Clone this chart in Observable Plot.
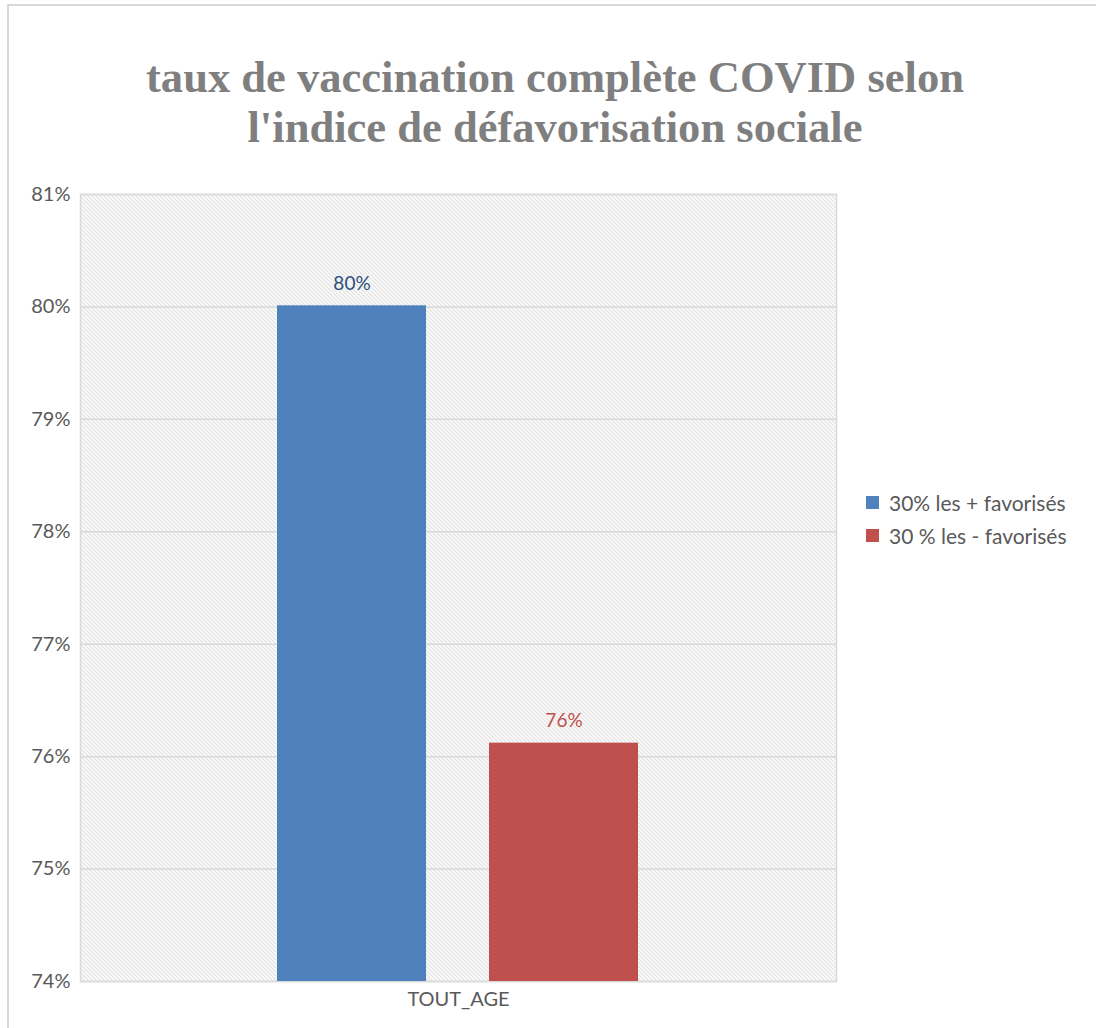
<!DOCTYPE html>
<html><head><meta charset="utf-8">
<script src="https://cdn.jsdelivr.net/npm/d3@7"></script>
<script src="https://cdn.jsdelivr.net/npm/@observablehq/plot@0.6"></script>
<style>
html,body{margin:0;background:#fff;overflow:hidden;}
#wrap{position:relative;width:1096px;height:1028px;overflow:hidden;background:#fff;}
#border{position:absolute;left:7px;top:4px;width:1200px;height:1100px;border-left:2px solid #d9d9d9;border-top:2px solid #d9d9d9;}
#title{position:absolute;left:0;top:52px;width:1110px;text-align:center;font-family:"Liberation Serif",serif;font-weight:bold;font-size:45px;line-height:50px;color:#7f7f7f;transform:scaleX(0.99);}
#chart{position:absolute;left:0;top:0;}
#legend{position:absolute;left:866px;top:486px;font-family:Lato,"Open Sans",sans-serif;font-size:21px;color:#595959;}
.row{display:flex;align-items:center;height:33px;}
.sw{width:13px;height:13px;margin-right:10px;}
</style></head>
<body>
<svg width="0" height="0" style="position:absolute">
  <defs>
    <pattern id="hatch" patternUnits="userSpaceOnUse" width="4" height="4">
      <rect width="4" height="4" fill="#ffffff"/>
      <path d="M-1,-1 L5,5 M-1,3 L1,5 M3,-1 L5,1" stroke="#c8c8c8" stroke-width="1"/>
    </pattern>
  </defs>
</svg>
<div id="wrap">
  <div id="border"></div>
  <div id="title">taux de vaccination complète COVID selon<br>l'indice de défavorisation sociale</div>
  <div id="chart"></div>
  <div id="legend"></div>
</div>
<script>
const categories = ["TOUT_AGE"];
const series = ["30% les + favorisés", "30 % les - favorisés"];
const values = [0.8001, 0.7612];
const labels = ["80%", "76%"];
const colors = ["#4f81bd", "#c0504d"];
const labelColors = ["#2c4f7c", "#c0504d"];
const yTicks = [0.74, 0.75, 0.76, 0.77, 0.78, 0.79, 0.80, 0.81];

const data = series.map((s, i) => ({cat: categories[0], series: s, value: values[i], label: labels[i], lc: labelColors[i]}));

const plot = Plot.plot({
  width: 1096,
  height: 1028,
  marginLeft: 80,
  marginRight: 260,
  marginTop: 194,
  marginBottom: 47,
  style: {fontFamily: "Lato, 'Open Sans', sans-serif", fontSize: "20px", color: "#595959", background: "transparent"},
  fx: {domain: categories, padding: 0, label: null},
  x: {domain: series, paddingInner: 0.297, paddingOuter: 0.93, axis: null},
  y: {domain: [0.74, 0.81], label: null},
  color: {domain: series, range: colors},
  marks: [
    Plot.frame({fill: "url(#hatch)", stroke: "none"}),
    Plot.gridY(yTicks, {stroke: "#d9d9d9", strokeOpacity: 1, strokeWidth: 1.5}),
    Plot.frame({stroke: "#d9d9d9", strokeWidth: 1.5}),
    Plot.axisY(yTicks, {tickFormat: d3.format(".0%"), tickSize: 0, tickPadding: 10, fontSize: 20}),
    Plot.axisFx({anchor: "bottom", tickSize: 0, tickPadding: 10, fontSize: 20, label: null}),
    Plot.rectY(data, {fx: "cat", x: "series", y1: 0.74, y2: "value", fill: "series"}),
    Plot.text(data, {fx: "cat", x: "series", y: "value", text: "label", fill: "lc", dy: -22, fontSize: 19})
  ]
});
document.getElementById("chart").appendChild(plot);

const lg = document.getElementById("legend");
series.forEach((s, i) => {
  const r = document.createElement("div"); r.className = "row";
  const sw = document.createElement("div"); sw.className = "sw"; sw.style.background = colors[i];
  const t = document.createElement("span"); t.textContent = s;
  r.appendChild(sw); r.appendChild(t); lg.appendChild(r);
});
</script>
</body></html>
